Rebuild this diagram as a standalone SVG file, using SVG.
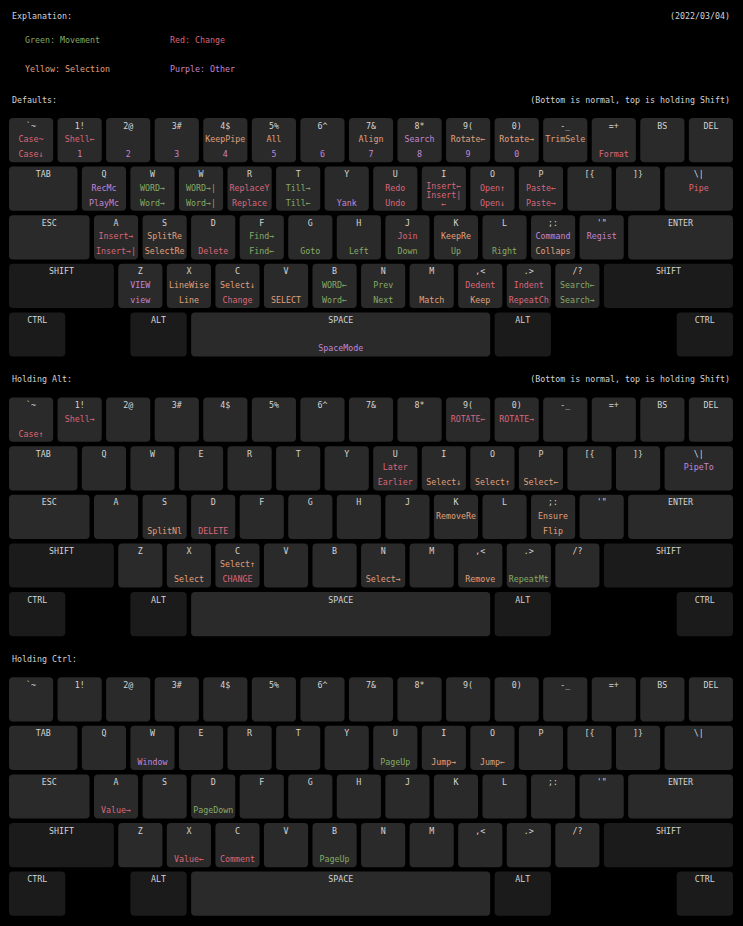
<svg xmlns="http://www.w3.org/2000/svg" xmlns:xlink="http://www.w3.org/1999/xlink" width="743" height="926" viewBox="0 0 743 926">
<style>
text{font-family:"DejaVu Sans Mono","Liberation Mono",monospace;font-size:8.3px;text-anchor:middle}
.h{fill:#d4d4d4;text-anchor:start}
.e{text-anchor:end}
.w{fill:#d4d4d4}
.r{fill:#d8677c}
.g{fill:#86aa66}
.y{fill:#e0a07c}
.p{fill:#c485d6}
.k{fill:#2a2a2a}
.m{fill:#1b1b1b}
</style>
<defs>
<rect id="k1" class="k" x="-22.08" width="44.16" height="44.2" rx="4"/>
<rect id="k15" class="k" x="-34.22" width="68.44" height="44.2" rx="4"/>
<rect id="k175" class="k" x="-40.29" width="80.58" height="44.2" rx="4"/>
<rect id="k225" class="k" x="-52.43" width="104.86" height="44.2" rx="4"/>
<rect id="m225" class="m" x="-52.43" width="104.86" height="44.2" rx="4"/>
<rect id="m275" class="m" x="-64.57" width="129.14" height="44.2" rx="4"/>
<rect id="m125" class="m" x="-28.15" width="56.3" height="44.2" rx="4"/>
<rect id="k625" class="k" x="-149.55" width="299.1" height="44.2" rx="4"/>
</defs>
<rect width="743" height="926" fill="#000"/>

<g id="header">
<text class="h" x="12" y="18.7">Explanation:</text>
<text class="h e" x="730" y="18.7">(2022/03/04)</text>
<text class="h g" x="25" y="43">Green: Movement</text>
<text class="h r" x="170" y="43">Red: Change</text>
<text class="h y" x="25" y="72">Yellow: Selection</text>
<text class="h p" x="170" y="72">Purple: Other</text>
<text class="h" x="12" y="103">Defaults:</text>
<text class="h e" x="730" y="103">(Bottom is normal, top is holding Shift)</text>
<text class="h" x="12" y="382.3">Holding Alt:</text>
<text class="h e" x="730" y="382.3">(Bottom is normal, top is holding Shift)</text>
<text class="h" x="12" y="662.3">Holding Ctrl:</text>
</g>

<!-- ================= DEFAULTS ================= -->
<g id="defaults">
<!-- row 1 -->
<g id="d-grave" transform="translate(31.08,118)"><use href="#k1"/><text class="w" y="10.5">`~</text><text class="r" y="24">Case~</text><text class="r" y="39">Case↓</text></g>
<g id="d-1" transform="translate(79.64,118)"><use href="#k1"/><text class="w" y="10.5">1!</text><text class="r" y="24">Shell←</text><text class="p" y="39">1</text></g>
<g id="d-2" transform="translate(128.2,118)"><use href="#k1"/><text class="w" y="10.5">2@</text><text class="p" y="39">2</text></g>
<g id="d-3" transform="translate(176.76,118)"><use href="#k1"/><text class="w" y="10.5">3#</text><text class="p" y="39">3</text></g>
<g id="d-4" transform="translate(225.32,118)"><use href="#k1"/><text class="w" y="10.5">4$</text><text class="y" y="24">KeepPipe</text><text class="p" y="39">4</text></g>
<g id="d-5" transform="translate(273.88,118)"><use href="#k1"/><text class="w" y="10.5">5%</text><text class="y" y="24">All</text><text class="p" y="39">5</text></g>
<g id="d-6" transform="translate(322.44,118)"><use href="#k1"/><text class="w" y="10.5">6^</text><text class="p" y="39">6</text></g>
<g id="d-7" transform="translate(371,118)"><use href="#k1"/><text class="w" y="10.5">7&amp;</text><text class="y" y="24">Align</text><text class="p" y="39">7</text></g>
<g id="d-8" transform="translate(419.56,118)"><use href="#k1"/><text class="w" y="10.5">8*</text><text class="p" y="24">Search</text><text class="p" y="39">8</text></g>
<g id="d-9" transform="translate(468.12,118)"><use href="#k1"/><text class="w" y="10.5">9(</text><text class="y" y="24">Rotate←</text><text class="p" y="39">9</text></g>
<g id="d-0" transform="translate(516.68,118)"><use href="#k1"/><text class="w" y="10.5">0)</text><text class="y" y="24">Rotate→</text><text class="p" y="39">0</text></g>
<g id="d-minus" transform="translate(565.24,118)"><use href="#k1"/><text class="w" y="10.5">-_</text><text class="y" y="24">TrimSele</text></g>
<g id="d-equal" transform="translate(613.8,118)"><use href="#k1"/><text class="w" y="10.5">=+</text><text class="r" y="39">Format</text></g>
<g id="d-bs" transform="translate(662.36,118)"><use href="#k1"/><text class="w" y="10.5">BS</text></g>
<g id="d-del" transform="translate(710.92,118)"><use href="#k1"/><text class="w" y="10.5">DEL</text></g>
<!-- row 2 -->
<g id="d-tab" transform="translate(43.22,166.6)"><use href="#k15"/><text class="w" y="10.5">TAB</text></g>
<g id="d-q" transform="translate(103.92,166.6)"><use href="#k1"/><text class="w" y="10.5">Q</text><text class="p" y="24">RecMc</text><text class="p" y="39">PlayMc</text></g>
<g id="d-w" transform="translate(152.48,166.6)"><use href="#k1"/><text class="w" y="10.5">W</text><text class="g" y="24">WORD→</text><text class="g" y="39">Word→</text></g>
<g id="d-e" transform="translate(201.04,166.6)"><use href="#k1"/><text class="w" y="10.5">W</text><text class="g" y="24">WORD→|</text><text class="g" y="39">Word→|</text></g>
<g id="d-r" transform="translate(249.6,166.6)"><use href="#k1"/><text class="w" y="10.5">R</text><text class="r" y="24">ReplaceY</text><text class="r" y="39">Replace</text></g>
<g id="d-t" transform="translate(298.16,166.6)"><use href="#k1"/><text class="w" y="10.5">T</text><text class="g" y="24">Till→</text><text class="g" y="39">Till←</text></g>
<g id="d-y" transform="translate(346.72,166.6)"><use href="#k1"/><text class="w" y="10.5">Y</text><text class="p" y="39">Yank</text></g>
<g id="d-u" transform="translate(395.28,166.6)"><use href="#k1"/><text class="w" y="10.5">U</text><text class="r" y="24">Redo</text><text class="r" y="39">Undo</text></g>
<g id="d-i" transform="translate(443.84,166.6)"><use href="#k1"/><text class="w" y="10.5">I</text><text class="r" y="22.6">Insert←</text><text class="r" y="31">Insert|</text><text class="r" y="40.5">←</text></g>
<g id="d-o" transform="translate(492.4,166.6)"><use href="#k1"/><text class="w" y="10.5">O</text><text class="r" y="24">Open↑</text><text class="r" y="39">Open↓</text></g>
<g id="d-p" transform="translate(540.96,166.6)"><use href="#k1"/><text class="w" y="10.5">P</text><text class="r" y="24">Paste←</text><text class="r" y="39">Paste→</text></g>
<g id="d-lbr" transform="translate(589.52,166.6)"><use href="#k1"/><text class="w" y="10.5">[{</text></g>
<g id="d-rbr" transform="translate(638.08,166.6)"><use href="#k1"/><text class="w" y="10.5">]}</text></g>
<g id="d-bsl" transform="translate(698.78,166.6)"><use href="#k15"/><text class="w" y="10.5">\|</text><text class="r" y="24">Pipe</text></g>
<!-- row 3 -->
<g id="d-esc" transform="translate(49.29,215.2)"><use href="#k175"/><text class="w" y="10.5">ESC</text></g>
<g id="d-a" transform="translate(116.06,215.2)"><use href="#k1"/><text class="w" y="10.5">A</text><text class="r" y="24">Insert→</text><text class="r" y="39">Insert→|</text></g>
<g id="d-s" transform="translate(164.62,215.2)"><use href="#k1"/><text class="w" y="10.5">S</text><text class="y" y="24">SplitRe</text><text class="y" y="39">SelectRe</text></g>
<g id="d-d" transform="translate(213.18,215.2)"><use href="#k1"/><text class="w" y="10.5">D</text><text class="r" y="39">Delete</text></g>
<g id="d-f" transform="translate(261.74,215.2)"><use href="#k1"/><text class="w" y="10.5">F</text><text class="g" y="24">Find→</text><text class="g" y="39">Find←</text></g>
<g id="d-g" transform="translate(310.3,215.2)"><use href="#k1"/><text class="w" y="10.5">G</text><text class="g" y="39">Goto</text></g>
<g id="d-h" transform="translate(358.86,215.2)"><use href="#k1"/><text class="w" y="10.5">H</text><text class="g" y="39">Left</text></g>
<g id="d-j" transform="translate(407.42,215.2)"><use href="#k1"/><text class="w" y="10.5">J</text><text class="r" y="24">Join</text><text class="g" y="39">Down</text></g>
<g id="d-k" transform="translate(455.98,215.2)"><use href="#k1"/><text class="w" y="10.5">K</text><text class="y" y="24">KeepRe</text><text class="g" y="39">Up</text></g>
<g id="d-l" transform="translate(504.54,215.2)"><use href="#k1"/><text class="w" y="10.5">L</text><text class="g" y="39">Right</text></g>
<g id="d-semi" transform="translate(553.1,215.2)"><use href="#k1"/><text class="w" y="10.5">;:</text><text class="p" y="24">Command</text><text class="y" y="39">Collaps</text></g>
<g id="d-quote" transform="translate(601.66,215.2)"><use href="#k1"/><text class="w" y="10.5">'"</text><text class="p" y="24">Regist</text></g>
<g id="d-enter" transform="translate(680.57,215.2)"><use href="#k225"/><text class="w" y="10.5">ENTER</text></g>
<!-- row 4 -->
<g id="d-lshift" transform="translate(61.43,263.8)"><use href="#m225"/><text class="w" y="10.5">SHIFT</text></g>
<g id="d-z" transform="translate(140.34,263.8)"><use href="#k1"/><text class="w" y="10.5">Z</text><text class="p" y="24">VIEW</text><text class="p" y="39">view</text></g>
<g id="d-x" transform="translate(188.9,263.8)"><use href="#k1"/><text class="w" y="10.5">X</text><text class="y" y="24">LineWise</text><text class="y" y="39">Line</text></g>
<g id="d-c" transform="translate(237.46,263.8)"><use href="#k1"/><text class="w" y="10.5">C</text><text class="y" y="24">Select↓</text><text class="r" y="39">Change</text></g>
<g id="d-v" transform="translate(286.02,263.8)"><use href="#k1"/><text class="w" y="10.5">V</text><text class="y" y="39">SELECT</text></g>
<g id="d-b" transform="translate(334.58,263.8)"><use href="#k1"/><text class="w" y="10.5">B</text><text class="g" y="24">WORD←</text><text class="g" y="39">Word←</text></g>
<g id="d-n" transform="translate(383.14,263.8)"><use href="#k1"/><text class="w" y="10.5">N</text><text class="g" y="24">Prev</text><text class="g" y="39">Next</text></g>
<g id="d-m" transform="translate(431.7,263.8)"><use href="#k1"/><text class="w" y="10.5">M</text><text class="y" y="39">Match</text></g>
<g id="d-comma" transform="translate(480.26,263.8)"><use href="#k1"/><text class="w" y="10.5">,&lt;</text><text class="r" y="24">Dedent</text><text class="y" y="39">Keep</text></g>
<g id="d-dot" transform="translate(528.82,263.8)"><use href="#k1"/><text class="w" y="10.5">.&gt;</text><text class="r" y="24">Indent</text><text class="r" y="39">RepeatCh</text></g>
<g id="d-slash" transform="translate(577.38,263.8)"><use href="#k1"/><text class="w" y="10.5">/?</text><text class="g" y="24">Search←</text><text class="g" y="39">Search→</text></g>
<g id="d-rshift" transform="translate(668.43,263.8)"><use href="#m275"/><text class="w" y="10.5">SHIFT</text></g>
<!-- row 5 -->
<g id="d-lctrl" transform="translate(37.15,312.4)"><use href="#m125"/><text class="w" y="10.5">CTRL</text></g>
<g id="d-lalt" transform="translate(158.55,312.4)"><use href="#m125"/><text class="w" y="10.5">ALT</text></g>
<g id="d-space" transform="translate(340.65,312.4)"><use href="#k625"/><text class="w" y="10.5">SPACE</text><text class="p" y="39">SpaceMode</text></g>
<g id="d-ralt" transform="translate(522.75,312.4)"><use href="#m125"/><text class="w" y="10.5">ALT</text></g>
<g id="d-rctrl" transform="translate(704.85,312.4)"><use href="#m125"/><text class="w" y="10.5">CTRL</text></g>
</g>

<!-- ================= HOLDING ALT ================= -->
<g id="alt">
<g id="a-grave" transform="translate(31.08,397.6)"><use href="#k1"/><text class="w" y="10.5">`~</text><text class="r" y="39">Case↑</text></g>
<g id="a-1" transform="translate(79.64,397.6)"><use href="#k1"/><text class="w" y="10.5">1!</text><text class="r" y="24">Shell→</text></g>
<g id="a-2" transform="translate(128.2,397.6)"><use href="#k1"/><text class="w" y="10.5">2@</text></g>
<g id="a-3" transform="translate(176.76,397.6)"><use href="#k1"/><text class="w" y="10.5">3#</text></g>
<g id="a-4" transform="translate(225.32,397.6)"><use href="#k1"/><text class="w" y="10.5">4$</text></g>
<g id="a-5" transform="translate(273.88,397.6)"><use href="#k1"/><text class="w" y="10.5">5%</text></g>
<g id="a-6" transform="translate(322.44,397.6)"><use href="#k1"/><text class="w" y="10.5">6^</text></g>
<g id="a-7" transform="translate(371,397.6)"><use href="#k1"/><text class="w" y="10.5">7&amp;</text></g>
<g id="a-8" transform="translate(419.56,397.6)"><use href="#k1"/><text class="w" y="10.5">8*</text></g>
<g id="a-9" transform="translate(468.12,397.6)"><use href="#k1"/><text class="w" y="10.5">9(</text><text class="r" y="24">ROTATE←</text></g>
<g id="a-0" transform="translate(516.68,397.6)"><use href="#k1"/><text class="w" y="10.5">0)</text><text class="r" y="24">ROTATE→</text></g>
<g id="a-minus" transform="translate(565.24,397.6)"><use href="#k1"/><text class="w" y="10.5">-_</text></g>
<g id="a-equal" transform="translate(613.8,397.6)"><use href="#k1"/><text class="w" y="10.5">=+</text></g>
<g id="a-bs" transform="translate(662.36,397.6)"><use href="#k1"/><text class="w" y="10.5">BS</text></g>
<g id="a-del" transform="translate(710.92,397.6)"><use href="#k1"/><text class="w" y="10.5">DEL</text></g>
<g id="a-tab" transform="translate(43.22,446.2)"><use href="#k15"/><text class="w" y="10.5">TAB</text></g>
<g id="a-q" transform="translate(103.92,446.2)"><use href="#k1"/><text class="w" y="10.5">Q</text></g>
<g id="a-w" transform="translate(152.48,446.2)"><use href="#k1"/><text class="w" y="10.5">W</text></g>
<g id="a-e" transform="translate(201.04,446.2)"><use href="#k1"/><text class="w" y="10.5">E</text></g>
<g id="a-r" transform="translate(249.6,446.2)"><use href="#k1"/><text class="w" y="10.5">R</text></g>
<g id="a-t" transform="translate(298.16,446.2)"><use href="#k1"/><text class="w" y="10.5">T</text></g>
<g id="a-y" transform="translate(346.72,446.2)"><use href="#k1"/><text class="w" y="10.5">Y</text></g>
<g id="a-u" transform="translate(395.28,446.2)"><use href="#k1"/><text class="w" y="10.5">U</text><text class="r" y="24">Later</text><text class="r" y="39">Earlier</text></g>
<g id="a-i" transform="translate(443.84,446.2)"><use href="#k1"/><text class="w" y="10.5">I</text><text class="y" y="39">Select↓</text></g>
<g id="a-o" transform="translate(492.4,446.2)"><use href="#k1"/><text class="w" y="10.5">O</text><text class="y" y="39">Select↑</text></g>
<g id="a-p" transform="translate(540.96,446.2)"><use href="#k1"/><text class="w" y="10.5">P</text><text class="y" y="39">Select←</text></g>
<g id="a-lbr" transform="translate(589.52,446.2)"><use href="#k1"/><text class="w" y="10.5">[{</text></g>
<g id="a-rbr" transform="translate(638.08,446.2)"><use href="#k1"/><text class="w" y="10.5">]}</text></g>
<g id="a-bsl" transform="translate(698.78,446.2)"><use href="#k15"/><text class="w" y="10.5">\|</text><text class="p" y="24">PipeTo</text></g>
<g id="a-esc" transform="translate(49.29,494.8)"><use href="#k175"/><text class="w" y="10.5">ESC</text></g>
<g id="a-a" transform="translate(116.06,494.8)"><use href="#k1"/><text class="w" y="10.5">A</text></g>
<g id="a-s" transform="translate(164.62,494.8)"><use href="#k1"/><text class="w" y="10.5">S</text><text class="y" y="39">SplitNl</text></g>
<g id="a-d" transform="translate(213.18,494.8)"><use href="#k1"/><text class="w" y="10.5">D</text><text class="r" y="39">DELETE</text></g>
<g id="a-f" transform="translate(261.74,494.8)"><use href="#k1"/><text class="w" y="10.5">F</text></g>
<g id="a-g" transform="translate(310.3,494.8)"><use href="#k1"/><text class="w" y="10.5">G</text></g>
<g id="a-h" transform="translate(358.86,494.8)"><use href="#k1"/><text class="w" y="10.5">H</text></g>
<g id="a-j" transform="translate(407.42,494.8)"><use href="#k1"/><text class="w" y="10.5">J</text></g>
<g id="a-k" transform="translate(455.98,494.8)"><use href="#k1"/><text class="w" y="10.5">K</text><text class="y" y="24">RemoveRe</text></g>
<g id="a-l" transform="translate(504.54,494.8)"><use href="#k1"/><text class="w" y="10.5">L</text></g>
<g id="a-semi" transform="translate(553.1,494.8)"><use href="#k1"/><text class="w" y="10.5">;:</text><text class="y" y="24">Ensure</text><text class="y" y="39">Flip</text></g>
<g id="a-quote" transform="translate(601.66,494.8)"><use href="#k1"/><text class="w" y="10.5">'"</text></g>
<g id="a-enter" transform="translate(680.57,494.8)"><use href="#k225"/><text class="w" y="10.5">ENTER</text></g>
<g id="a-lshift" transform="translate(61.43,543.4)"><use href="#m225"/><text class="w" y="10.5">SHIFT</text></g>
<g id="a-z" transform="translate(140.34,543.4)"><use href="#k1"/><text class="w" y="10.5">Z</text></g>
<g id="a-x" transform="translate(188.9,543.4)"><use href="#k1"/><text class="w" y="10.5">X</text><text class="y" y="39">Select</text></g>
<g id="a-c" transform="translate(237.46,543.4)"><use href="#k1"/><text class="w" y="10.5">C</text><text class="y" y="24">Select↑</text><text class="r" y="39">CHANGE</text></g>
<g id="a-v" transform="translate(286.02,543.4)"><use href="#k1"/><text class="w" y="10.5">V</text></g>
<g id="a-b" transform="translate(334.58,543.4)"><use href="#k1"/><text class="w" y="10.5">B</text></g>
<g id="a-n" transform="translate(383.14,543.4)"><use href="#k1"/><text class="w" y="10.5">N</text><text class="y" y="39">Select→</text></g>
<g id="a-m" transform="translate(431.7,543.4)"><use href="#k1"/><text class="w" y="10.5">M</text></g>
<g id="a-comma" transform="translate(480.26,543.4)"><use href="#k1"/><text class="w" y="10.5">,&lt;</text><text class="y" y="39">Remove</text></g>
<g id="a-dot" transform="translate(528.82,543.4)"><use href="#k1"/><text class="w" y="10.5">.&gt;</text><text class="g" y="39">RepeatMt</text></g>
<g id="a-slash" transform="translate(577.38,543.4)"><use href="#k1"/><text class="w" y="10.5">/?</text></g>
<g id="a-rshift" transform="translate(668.43,543.4)"><use href="#m275"/><text class="w" y="10.5">SHIFT</text></g>
<g id="a-lctrl" transform="translate(37.15,592)"><use href="#m125"/><text class="w" y="10.5">CTRL</text></g>
<g id="a-lalt" transform="translate(158.55,592)"><use href="#m125"/><text class="w" y="10.5">ALT</text></g>
<g id="a-space" transform="translate(340.65,592)"><use href="#k625"/><text class="w" y="10.5">SPACE</text></g>
<g id="a-ralt" transform="translate(522.75,592)"><use href="#m125"/><text class="w" y="10.5">ALT</text></g>
<g id="a-rctrl" transform="translate(704.85,592)"><use href="#m125"/><text class="w" y="10.5">CTRL</text></g>
</g>

<!-- ================= HOLDING CTRL ================= -->
<g id="ctrl">
<g id="c-grave" transform="translate(31.08,677.2)"><use href="#k1"/><text class="w" y="10.5">`~</text></g>
<g id="c-1" transform="translate(79.64,677.2)"><use href="#k1"/><text class="w" y="10.5">1!</text></g>
<g id="c-2" transform="translate(128.2,677.2)"><use href="#k1"/><text class="w" y="10.5">2@</text></g>
<g id="c-3" transform="translate(176.76,677.2)"><use href="#k1"/><text class="w" y="10.5">3#</text></g>
<g id="c-4" transform="translate(225.32,677.2)"><use href="#k1"/><text class="w" y="10.5">4$</text></g>
<g id="c-5" transform="translate(273.88,677.2)"><use href="#k1"/><text class="w" y="10.5">5%</text></g>
<g id="c-6" transform="translate(322.44,677.2)"><use href="#k1"/><text class="w" y="10.5">6^</text></g>
<g id="c-7" transform="translate(371,677.2)"><use href="#k1"/><text class="w" y="10.5">7&amp;</text></g>
<g id="c-8" transform="translate(419.56,677.2)"><use href="#k1"/><text class="w" y="10.5">8*</text></g>
<g id="c-9" transform="translate(468.12,677.2)"><use href="#k1"/><text class="w" y="10.5">9(</text></g>
<g id="c-0" transform="translate(516.68,677.2)"><use href="#k1"/><text class="w" y="10.5">0)</text></g>
<g id="c-minus" transform="translate(565.24,677.2)"><use href="#k1"/><text class="w" y="10.5">-_</text></g>
<g id="c-equal" transform="translate(613.8,677.2)"><use href="#k1"/><text class="w" y="10.5">=+</text></g>
<g id="c-bs" transform="translate(662.36,677.2)"><use href="#k1"/><text class="w" y="10.5">BS</text></g>
<g id="c-del" transform="translate(710.92,677.2)"><use href="#k1"/><text class="w" y="10.5">DEL</text></g>
<g id="c-tab" transform="translate(43.22,725.8)"><use href="#k15"/><text class="w" y="10.5">TAB</text></g>
<g id="c-q" transform="translate(103.92,725.8)"><use href="#k1"/><text class="w" y="10.5">Q</text></g>
<g id="c-w" transform="translate(152.48,725.8)"><use href="#k1"/><text class="w" y="10.5">W</text><text class="p" y="39">Window</text></g>
<g id="c-e" transform="translate(201.04,725.8)"><use href="#k1"/><text class="w" y="10.5">E</text></g>
<g id="c-r" transform="translate(249.6,725.8)"><use href="#k1"/><text class="w" y="10.5">R</text></g>
<g id="c-t" transform="translate(298.16,725.8)"><use href="#k1"/><text class="w" y="10.5">T</text></g>
<g id="c-y" transform="translate(346.72,725.8)"><use href="#k1"/><text class="w" y="10.5">Y</text></g>
<g id="c-u" transform="translate(395.28,725.8)"><use href="#k1"/><text class="w" y="10.5">U</text><text class="g" y="39">PageUp</text></g>
<g id="c-i" transform="translate(443.84,725.8)"><use href="#k1"/><text class="w" y="10.5">I</text><text class="y" y="39">Jump→</text></g>
<g id="c-o" transform="translate(492.4,725.8)"><use href="#k1"/><text class="w" y="10.5">O</text><text class="y" y="39">Jump←</text></g>
<g id="c-p" transform="translate(540.96,725.8)"><use href="#k1"/><text class="w" y="10.5">P</text></g>
<g id="c-lbr" transform="translate(589.52,725.8)"><use href="#k1"/><text class="w" y="10.5">[{</text></g>
<g id="c-rbr" transform="translate(638.08,725.8)"><use href="#k1"/><text class="w" y="10.5">]}</text></g>
<g id="c-bsl" transform="translate(698.78,725.8)"><use href="#k15"/><text class="w" y="10.5">\|</text></g>
<g id="c-esc" transform="translate(49.29,774.4)"><use href="#k175"/><text class="w" y="10.5">ESC</text></g>
<g id="c-a" transform="translate(116.06,774.4)"><use href="#k1"/><text class="w" y="10.5">A</text><text class="r" y="39">Value→</text></g>
<g id="c-s" transform="translate(164.62,774.4)"><use href="#k1"/><text class="w" y="10.5">S</text></g>
<g id="c-d" transform="translate(213.18,774.4)"><use href="#k1"/><text class="w" y="10.5">D</text><text class="g" y="39">PageDown</text></g>
<g id="c-f" transform="translate(261.74,774.4)"><use href="#k1"/><text class="w" y="10.5">F</text></g>
<g id="c-g" transform="translate(310.3,774.4)"><use href="#k1"/><text class="w" y="10.5">G</text></g>
<g id="c-h" transform="translate(358.86,774.4)"><use href="#k1"/><text class="w" y="10.5">H</text></g>
<g id="c-j" transform="translate(407.42,774.4)"><use href="#k1"/><text class="w" y="10.5">J</text></g>
<g id="c-k" transform="translate(455.98,774.4)"><use href="#k1"/><text class="w" y="10.5">K</text></g>
<g id="c-l" transform="translate(504.54,774.4)"><use href="#k1"/><text class="w" y="10.5">L</text></g>
<g id="c-semi" transform="translate(553.1,774.4)"><use href="#k1"/><text class="w" y="10.5">;:</text></g>
<g id="c-quote" transform="translate(601.66,774.4)"><use href="#k1"/><text class="w" y="10.5">'"</text></g>
<g id="c-enter" transform="translate(680.57,774.4)"><use href="#k225"/><text class="w" y="10.5">ENTER</text></g>
<g id="c-lshift" transform="translate(61.43,823)"><use href="#m225"/><text class="w" y="10.5">SHIFT</text></g>
<g id="c-z" transform="translate(140.34,823)"><use href="#k1"/><text class="w" y="10.5">Z</text></g>
<g id="c-x" transform="translate(188.9,823)"><use href="#k1"/><text class="w" y="10.5">X</text><text class="r" y="39">Value←</text></g>
<g id="c-c" transform="translate(237.46,823)"><use href="#k1"/><text class="w" y="10.5">C</text><text class="r" y="39">Comment</text></g>
<g id="c-v" transform="translate(286.02,823)"><use href="#k1"/><text class="w" y="10.5">V</text></g>
<g id="c-b" transform="translate(334.58,823)"><use href="#k1"/><text class="w" y="10.5">B</text><text class="g" y="39">PageUp</text></g>
<g id="c-n" transform="translate(383.14,823)"><use href="#k1"/><text class="w" y="10.5">N</text></g>
<g id="c-m" transform="translate(431.7,823)"><use href="#k1"/><text class="w" y="10.5">M</text></g>
<g id="c-comma" transform="translate(480.26,823)"><use href="#k1"/><text class="w" y="10.5">,&lt;</text></g>
<g id="c-dot" transform="translate(528.82,823)"><use href="#k1"/><text class="w" y="10.5">.&gt;</text></g>
<g id="c-slash" transform="translate(577.38,823)"><use href="#k1"/><text class="w" y="10.5">/?</text></g>
<g id="c-rshift" transform="translate(668.43,823)"><use href="#m275"/><text class="w" y="10.5">SHIFT</text></g>
<g id="c-lctrl" transform="translate(37.15,871.6)"><use href="#m125"/><text class="w" y="10.5">CTRL</text></g>
<g id="c-lalt" transform="translate(158.55,871.6)"><use href="#m125"/><text class="w" y="10.5">ALT</text></g>
<g id="c-space" transform="translate(340.65,871.6)"><use href="#k625"/><text class="w" y="10.5">SPACE</text></g>
<g id="c-ralt" transform="translate(522.75,871.6)"><use href="#m125"/><text class="w" y="10.5">ALT</text></g>
<g id="c-rctrl" transform="translate(704.85,871.6)"><use href="#m125"/><text class="w" y="10.5">CTRL</text></g>
</g>
<g id="connectors"/>
</svg>
